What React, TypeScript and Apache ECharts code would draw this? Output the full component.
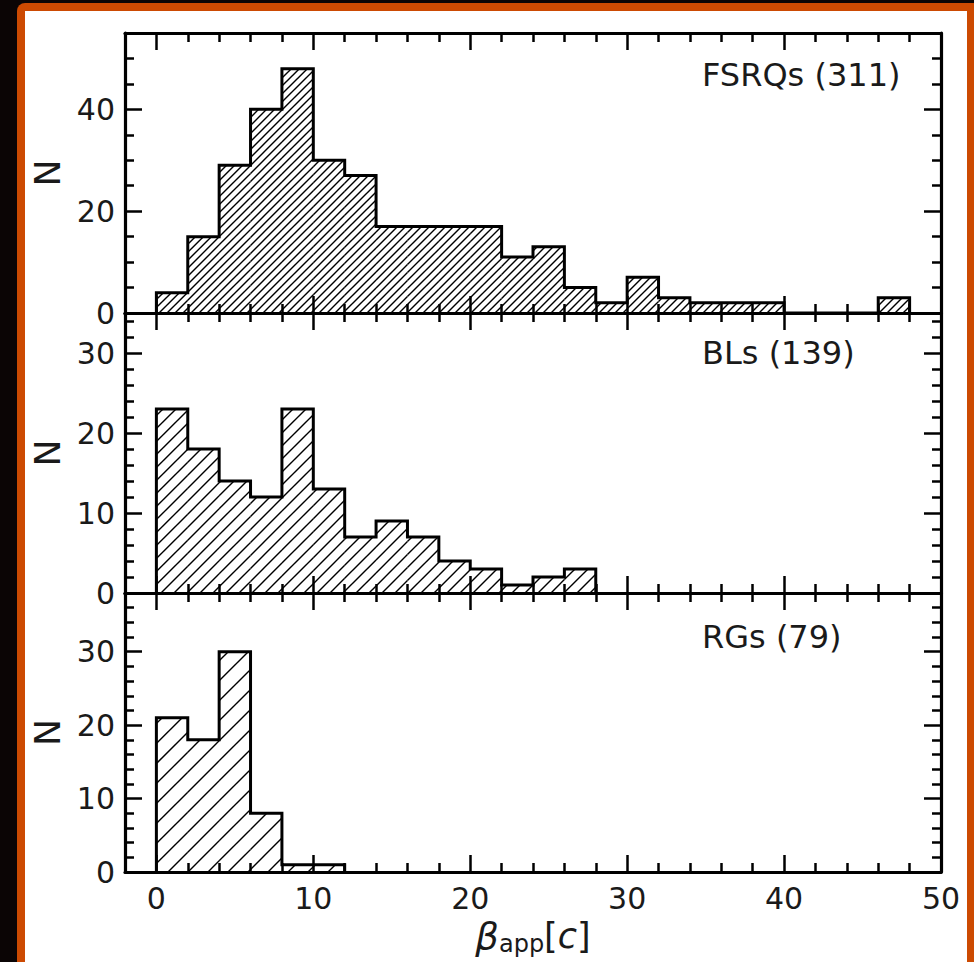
import React, { useEffect, useRef } from "react";
import * as echarts from "echarts";

// Histogram counts per 2c-wide bin of apparent speed, starting at 0
const BIN_WIDTH = 2;
const fsrqCounts = [4, 15, 29, 40, 48, 30, 27, 17, 17, 17, 17, 11, 13, 5, 2, 7, 3, 2, 2, 2, 0, 0, 0, 3];
const blCounts = [23, 18, 14, 12, 23, 13, 7, 9, 7, 4, 3, 1, 2, 3];
const rgCounts = [21, 18, 30, 8, 1, 1];

const panelLabels = ["FSRQs (311)", "BLs (139)", "RGs (79)"];

// Axis ranges and ticks
const X_MIN = -2;
const X_MAX = 50;
const xMajorTicks = [0, 10, 20, 30, 40, 50];
const X_MINOR_STEP = 2;
const yMaxes = [55, 35, 38];
const yMajorTicks = [
  [0, 20, 40],
  [0, 10, 20, 30],
  [0, 10, 20, 30],
];
const yMinorSteps = [5, 2, 2];

// Layout
const WIDTH = 974;
const HEIGHT = 962;
const GRID_LEFT = 125;
const GRID_WIDTH = 816;
const PANEL_TOPS = [33, 313, 593];
const PANEL_HEIGHTS = [280, 280, 279];
const LABEL_Y = [75, 353, 637];
const hatchSpacing = [8, 13, 20];

const FONT = '"DejaVu Sans", sans-serif';
const INK = "#000";
const TEXT = "#1a1a1a";
const ORANGE = "#cc4a02";
const DARK = "#0b0505";

const MAJOR_LEN = 17;
const MINOR_LEN = 9;

function minorTicks(max: number, step: number, majors: number[]): number[] {
  const out: number[] = [];
  for (let v = step; v < max - 1e-9; v += step) {
    const r = Math.round(v * 1000) / 1000;
    if (!majors.includes(r)) out.push(r);
  }
  return out;
}

function binsOf(counts: number[]): number[][] {
  return counts.map((c, i) => [i * BIN_WIDTH, (i + 1) * BIN_WIDTH, c]);
}

function outlineOf(counts: number[]): number[][] {
  const pts: number[][] = [[0, 0]];
  counts.forEach((c, i) => pts.push([i * BIN_WIDTH, c]));
  const end = counts.length * BIN_WIDTH;
  pts.push([end, counts[counts.length - 1]]);
  pts.push([end, 0]);
  return pts;
}

// Diagonal "/" hatching clipped to each bin; lines follow x + y = k in pixels
function hatchRenderer(spacing: number) {
  return (_params: any, api: any) => {
    const x0 = api.value(0);
    const x1 = api.value(1);
    const v = api.value(2);
    const children: any[] = [];
    if (v > 0) {
      const bl = api.coord([x0, 0]);
      const tr = api.coord([x1, v]);
      const left = bl[0];
      const right = tr[0];
      const top = tr[1];
      const bottom = bl[1];
      let k = Math.ceil((left + top) / spacing) * spacing;
      for (; k <= right + bottom; k += spacing) {
        const xa = Math.max(left, k - bottom);
        const xb = Math.min(right, k - top);
        if (xb - xa < 0.5) continue;
        children.push({
          type: "line",
          shape: { x1: xa, y1: k - xa, x2: xb, y2: k - xb },
          style: { stroke: INK, lineWidth: 1.4 },
        });
      }
    }
    return { type: "group", children };
  };
}

const tickLine = { color: INK, width: 2.5 };

function xAxesFor(gridIndex: number, isBottomPanel: boolean): any[] {
  const minors = minorTicks(X_MAX, X_MINOR_STEP, xMajorTicks);
  const base = {
    type: "value",
    gridIndex,
    min: X_MIN,
    max: X_MAX,
    splitLine: { show: false },
  };
  const labelStyle = {
    show: isBottomPanel,
    customValues: xMajorTicks,
    fontFamily: FONT,
    fontSize: 30,
    color: TEXT,
    margin: 11,
  };
  const bottomMajor: any = {
    ...base,
    position: "bottom",
    axisLine: { show: true, onZero: false, lineStyle: { color: INK, width: 3.2 } },
    axisTick: { show: true, inside: true, length: MAJOR_LEN, customValues: xMajorTicks, lineStyle: tickLine },
    axisLabel: labelStyle,
  };
  if (isBottomPanel) {
    bottomMajor.name = "{g|β}{s|app}{b|[}{i|c}{b|]}";
    bottomMajor.nameLocation = "middle";
    bottomMajor.nameGap = 64;
    bottomMajor.nameTextStyle = {
      align: "center",
      verticalAlign: "middle",
      color: TEXT,
      rich: {
        g: { fontFamily: FONT, fontStyle: "italic", fontSize: 37, lineHeight: 44, color: TEXT },
        s: { fontFamily: FONT, fontSize: 24, lineHeight: 28, padding: [16, 0, 0, 0], color: TEXT },
        b: { fontFamily: FONT, fontSize: 35, lineHeight: 44, color: TEXT },
        i: { fontFamily: FONT, fontStyle: "italic", fontSize: 35, lineHeight: 44, color: TEXT },
      },
    };
  }
  return [
    bottomMajor,
    {
      ...base,
      position: "bottom",
      axisLine: { show: false, onZero: false },
      axisTick: { show: true, inside: true, length: MINOR_LEN, customValues: minors, lineStyle: tickLine },
      axisLabel: { show: false },
    },
    {
      ...base,
      position: "top",
      axisLine: { show: true, onZero: false, lineStyle: { color: INK, width: 3.2 } },
      axisTick: { show: true, inside: true, length: MAJOR_LEN, customValues: xMajorTicks, lineStyle: tickLine },
      axisLabel: { show: false },
    },
    {
      ...base,
      position: "top",
      axisLine: { show: false, onZero: false },
      axisTick: { show: true, inside: true, length: MINOR_LEN, customValues: minors, lineStyle: tickLine },
      axisLabel: { show: false },
    },
  ];
}

function yAxesFor(gridIndex: number): any[] {
  const max = yMaxes[gridIndex];
  const majors = yMajorTicks[gridIndex];
  const minors = minorTicks(max, yMinorSteps[gridIndex], majors);
  const base = {
    type: "value",
    gridIndex,
    min: 0,
    max,
    splitLine: { show: false },
  };
  return [
    {
      ...base,
      position: "left",
      name: "N",
      nameLocation: "middle",
      nameGap: 73,
      nameRotate: 90,
      nameTextStyle: {
        fontFamily: FONT,
        fontSize: 36,
        color: TEXT,
        align: "center",
        verticalAlign: "middle",
      },
      axisLine: { show: true, onZero: false, lineStyle: { color: INK, width: 3.2 } },
      axisTick: { show: true, inside: true, length: MAJOR_LEN, customValues: majors, lineStyle: tickLine },
      axisLabel: {
        show: true,
        customValues: majors,
        fontFamily: FONT,
        fontSize: 30,
        color: TEXT,
        margin: 10,
      },
    },
    {
      ...base,
      position: "left",
      axisLine: { show: false, onZero: false },
      axisTick: { show: true, inside: true, length: MINOR_LEN, customValues: minors, lineStyle: tickLine },
      axisLabel: { show: false },
    },
    {
      ...base,
      position: "right",
      axisLine: { show: true, onZero: false, lineStyle: { color: INK, width: 3.2 } },
      axisTick: { show: true, inside: true, length: MAJOR_LEN, customValues: majors, lineStyle: tickLine },
      axisLabel: { show: false },
    },
    {
      ...base,
      position: "right",
      axisLine: { show: false, onZero: false },
      axisTick: { show: true, inside: true, length: MINOR_LEN, customValues: minors, lineStyle: tickLine },
      axisLabel: { show: false },
    },
  ];
}

function buildOption(): any {
  const allCounts = [fsrqCounts, blCounts, rgCounts];
  const grids = PANEL_TOPS.map((top, i) => ({
    left: GRID_LEFT,
    top,
    width: GRID_WIDTH,
    height: PANEL_HEIGHTS[i],
    containLabel: false,
    outerBoundsMode: "none",
  }));

  const xAxes: any[] = [];
  const yAxes: any[] = [];
  allCounts.forEach((_c, i) => {
    xAxes.push(...xAxesFor(i, i === allCounts.length - 1));
    yAxes.push(...yAxesFor(i));
  });

  const series: any[] = [];
  allCounts.forEach((counts, i) => {
    series.push({
      type: "custom",
      name: panelLabels[i] + " hatch",
      xAxisIndex: i * 4,
      yAxisIndex: i * 4,
      data: binsOf(counts),
      encode: { x: [0, 1], y: 2 },
      renderItem: hatchRenderer(hatchSpacing[i]),
      silent: true,
      z: 2,
    });
    series.push({
      type: "line",
      name: panelLabels[i],
      xAxisIndex: i * 4,
      yAxisIndex: i * 4,
      data: outlineOf(counts),
      step: "end",
      symbol: "none",
      lineStyle: { color: INK, width: 3, join: "miter" },
      silent: true,
      z: 3,
    });
  });

  const labelGraphics = panelLabels.map((text, i) => ({
    type: "text",
    x: 702,
    y: LABEL_Y[i],
    z: 10,
    style: {
      text,
      fill: TEXT,
      font: `32px ${FONT}`,
      align: "left",
      verticalAlign: "middle",
    },
  }));

  return {
    animation: false,
    backgroundColor: DARK,
    grid: grids,
    xAxis: xAxes,
    yAxis: yAxes,
    series,
    graphic: [
      {
        type: "rect",
        z: -10,
        shape: { x: 17, y: 3, width: 1000, height: 1000, r: [8, 0, 0, 0] },
        style: { fill: ORANGE },
        silent: true,
      },
      {
        type: "rect",
        z: -9,
        shape: { x: 25, y: 11, width: 942, height: 1000 },
        style: { fill: "#ffffff" },
        silent: true,
      },
      ...labelGraphics,
    ],
  };
}

export default function App() {
  const ref = useRef<HTMLDivElement | null>(null);
  useEffect(() => {
    if (!ref.current) return;
    const chart = echarts.init(ref.current, null, { renderer: "svg" });
    chart.setOption(buildOption());
    return () => chart.dispose();
  }, []);
  return (
    <div
      ref={ref}
      style={{ position: "absolute", left: 0, top: 0, width: WIDTH, height: HEIGHT }}
    />
  );
}
